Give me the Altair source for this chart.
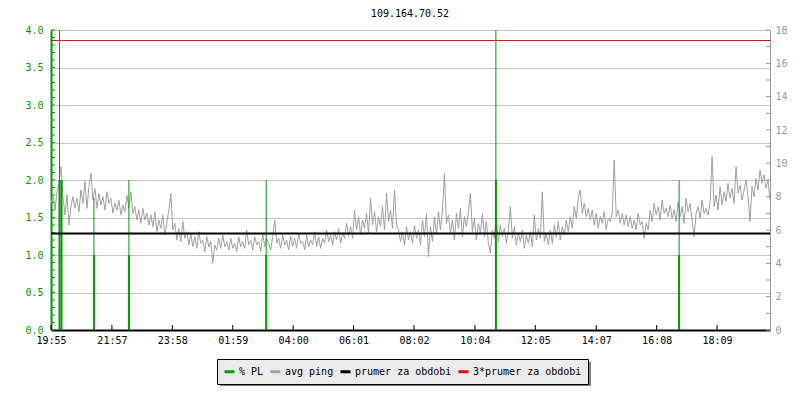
import altair as alt
import pandas as pd

title_text = "109.164.70.52"
start = pd.Timestamp("2024-05-01 19:55")
sample_minutes = 4
day_minutes = 1440

# avg ping in ms (right axis), one value every 4 minutes
ping_ms = [
    7.6, 8.1, 7.2, 8.3, 8.8, 9.8, 8.0, 6.9, 8.1, 6.3,
    7.4, 8.0, 7.3, 7.9, 7.1, 8.4, 7.6, 8.9, 7.3, 8.6,
    9.4, 7.8, 8.5, 7.3, 8.2, 7.5, 8.0, 7.2, 8.3, 7.6,
    7.9, 7.0, 7.6, 7.2, 7.8, 6.9, 7.5, 7.1, 8.1, 7.3,
    8.3, 7.0, 7.4, 6.6, 7.2, 6.4, 7.3, 6.6, 7.0, 6.3,
    6.9, 6.2, 7.1, 5.9, 6.6, 6.1, 6.9, 5.7, 6.4, 7.2,
    8.2, 6.0, 6.4, 5.4, 6.1, 5.3, 6.5, 5.5, 5.9, 5.1,
    5.8, 5.0, 5.6, 4.9, 5.9, 5.2, 5.4, 4.7, 5.6, 5.0,
    5.3, 4.0, 5.1, 4.8, 5.5, 4.9, 5.7, 5.0, 5.3, 4.8,
    5.5, 4.9, 5.2, 4.7, 5.6, 5.0, 5.3, 4.9, 6.0, 5.1,
    5.4, 4.8, 5.6, 5.1, 5.3, 4.7, 5.8, 5.0, 5.5, 5.2,
    4.8, 5.6, 6.6, 5.2, 5.5, 4.9, 5.7, 5.1, 5.4, 4.8,
    5.6, 5.0, 5.5, 4.9, 5.8, 5.2, 5.3, 4.8, 5.7, 5.0,
    5.4, 5.1, 5.9, 5.0, 5.6, 4.9, 5.5, 5.2, 6.0, 5.3,
    5.7, 5.1, 5.9, 5.4, 6.1, 5.2, 5.8, 5.5, 6.4, 5.6,
    6.2, 5.5, 7.2, 6.0, 6.8, 5.7, 6.6, 6.1, 7.0, 5.8,
    7.9, 6.3, 7.1, 5.9, 6.8, 6.2, 7.4, 6.0, 8.2, 6.5,
    7.2, 6.1, 8.4, 6.3, 6.0, 5.3, 5.9, 5.1, 6.2, 5.4,
    5.9, 5.2, 6.3, 5.5, 6.0, 5.1, 6.6, 5.6, 7.0, 4.4,
    6.2, 5.3, 6.8, 5.7, 7.1, 6.0, 7.2, 9.4, 6.4, 6.9,
    5.8, 6.6, 5.4, 7.0, 6.1, 7.3, 5.6, 6.8, 6.2, 7.1,
    8.2, 5.9, 6.7, 5.4, 6.4, 5.8, 7.0, 5.6, 6.5, 5.2,
    4.6, 6.0, 5.5, 6.8, 5.3, 6.3, 5.6, 6.1, 5.2, 6.0,
    7.4, 5.5, 6.2, 5.1, 5.8, 5.3, 6.0, 4.9, 5.7, 5.2,
    5.9, 5.0, 6.9, 5.4, 6.1, 5.5, 8.3, 5.3, 5.8, 5.1,
    6.0, 5.2, 6.3, 5.6, 6.5, 5.4, 6.2, 5.7, 6.6, 5.9,
    6.8, 6.1, 7.4, 6.7, 7.9, 8.4, 7.0, 7.6, 6.8, 7.3,
    6.6, 7.2, 6.3, 7.0, 6.1, 6.8, 6.4, 7.1, 6.0, 6.7,
    6.5, 7.0, 10.2, 6.8, 7.2, 6.4, 7.0, 6.3, 6.9, 6.2,
    6.8, 6.1, 6.6, 6.0, 7.0, 6.3, 6.5, 5.5, 6.4, 6.0,
    7.2, 6.5, 7.6, 6.9, 7.4, 6.6, 7.8, 7.0, 7.3, 6.8,
    7.5, 6.7, 7.2, 6.5, 7.7, 6.8, 7.4, 6.4, 7.9, 7.1,
    7.6, 6.6, 5.6, 7.0, 7.4, 6.7, 7.8, 7.0, 7.3, 6.9,
    7.6, 10.4, 7.4, 8.1, 7.2, 8.6, 7.5, 8.3, 7.7, 8.8,
    7.9, 8.5, 7.6, 9.8, 8.2, 8.7, 7.8, 8.4, 9.0, 8.0,
    6.5, 8.6, 8.0, 9.1, 8.4, 9.6, 8.8, 9.3, 8.5, 9.0,
    7.8,
]

# packet loss events (% , left axis)
pl_minutes = [17, 21, 86, 156, 431, 891, 1258]
pl_peak = [5.0, 2.0, 1.76, 2.0, 2.0, 5.0, 2.0]
pl_base = [2.0, 2.0, 1.0, 1.0, 1.0, 2.0, 1.0]

avg_ms = 5.79
avg3_ms = 3 * avg_ms

label_minutes = [0, 122, 243, 364, 485, 606, 727, 849, 970, 1092, 1213, 1334]
left_ticks = [round(i * 0.1, 1) for i in range(41)]
left_labels = [round(i * 0.5, 1) for i in range(9)]
right_ticks = list(range(0, 19))
right_labels = list(range(0, 19, 2))

legend_labels = ["% PL", "avg ping", "prumer za obdobi", "3*prumer za obdobi"]
GREEN = "#009c00"
GRAY = "#999999"
legend_colors = [GREEN, "#a0a0a0", "#000000", "#ff0000"]

FONT = "DejaVu Sans Mono"


def ts(m):
    return start + pd.Timedelta(minutes=m)


def dt(m):
    t = ts(m)
    return alt.DateTime(year=t.year, month=t.month, date=t.day, hours=t.hour, minutes=t.minute)


ping_df = pd.DataFrame({"t": [ts(i * sample_minutes) for i in range(len(ping_ms))], "ms": ping_ms,
                        "series": legend_labels[1]})
pl_df = pd.DataFrame({"t": [ts(m) for m in pl_minutes], "peak": pl_peak, "base": pl_base,
                      "series": legend_labels[0]})
lt_df = pd.DataFrame({"v": left_ticks})
rt_df = pd.DataFrame({"v": right_ticks})
xt_df = pd.DataFrame({"t": [ts(m) for m in label_minutes]})
avg_df = pd.DataFrame({"a": [avg_ms], "series": [legend_labels[2]]})
avg3_df = pd.DataFrame({"a": [avg3_ms], "series": [legend_labels[3]]})
title_df = pd.DataFrame({"title": [title_text]})

x_scale = alt.Scale(domain=[dt(0), dt(day_minutes)], nice=False)
x_axis = alt.Axis(values=[dt(m) for m in label_minutes], format="%H:%M", ticks=False,
                  labelPadding=5, domainColor="black", domainWidth=2, grid=False, title=None,
                  labelFlush=False, labelOverlap=False, labelFont=FONT, labelFontSize=10,
                  labelColor="black")


def X(field="t"):
    return alt.X(f"{field}:T", scale=x_scale, axis=x_axis)


left_scale = alt.Scale(domain=[0, 4], nice=False, zero=True)
right_scale = alt.Scale(domain=[0, 18], nice=False, zero=True)

color_scale = alt.Scale(domain=legend_labels, range=legend_colors)
legend = alt.Legend(orient="none", legendX=166, legendY=329, direction="horizontal", columns=4,
                    title=None, fillColor="#ebebeb", strokeColor="black", padding=6,
                    symbolType="stroke", symbolSize=100, symbolStrokeWidth=3,
                    labelFont=FONT, labelFontSize=10, labelColor="black", labelOffset=3,
                    columnPadding=0)


def C():
    return alt.Color("series:N", scale=color_scale, legend=legend)


left_axis = alt.Axis(orient="left", values=left_labels, format=".1f", labelColor=GREEN,
                     domainColor=GREEN, domainWidth=2, ticks=False, grid=True,
                     gridColor="#c4c4c4", gridWidth=1, labelFont=FONT, labelFontSize=10,
                     labelPadding=8, title=None)
right_axis = alt.Axis(orient="right", values=right_labels, format="d", labelColor=GRAY,
                      domainColor=GRAY, domainWidth=1, ticks=False, grid=False,
                      labelFont=FONT, labelFontSize=10, labelPadding=5, title=None)

left_tick_layer = alt.Chart(lt_df).mark_rule(color=GREEN, strokeWidth=1).encode(
    y=alt.Y("v:Q", scale=left_scale, axis=left_axis),
    x=alt.value(0), x2=alt.value(4),
)

ping_layer = alt.Chart(ping_df).mark_line(strokeWidth=1, interpolate="linear").encode(
    x=X(),
    y=alt.Y("ms:Q", scale=right_scale, axis=right_axis),
    color=C(),
)

pl_thin = alt.Chart(pl_df).mark_rule(strokeWidth=1, clip=True).encode(
    x=X(),
    y=alt.Y("peak:Q", scale=left_scale, axis=None),
    y2=alt.Y2Datum(0),
    color=C(),
)

pl_thick = alt.Chart(pl_df).mark_rule(strokeWidth=2, clip=True).encode(
    x=X(),
    y=alt.Y("base:Q", scale=left_scale, axis=None),
    y2=alt.Y2Datum(0),
    color=C(),
)

avg_layer = alt.Chart(avg_df).mark_rule(strokeWidth=2).encode(
    y=alt.Y("a:Q", scale=right_scale, axis=None),
    color=C(),
)

avg3_layer = alt.Chart(avg3_df).mark_rule(strokeWidth=1).encode(
    y=alt.Y("a:Q", scale=right_scale, axis=None),
    color=C(),
)

right_tick_layer = alt.Chart(rt_df).mark_rule(color=GRAY, strokeWidth=1).encode(
    y=alt.Y("v:Q", scale=right_scale, axis=None),
    x=alt.value(715), x2=alt.value(719),
)

x_tick_layer = alt.Chart(xt_df).mark_rule(color="black", strokeWidth=1).encode(
    x=X(),
    y=alt.value(295), y2=alt.value(300),
)

shadow = alt.Chart(avg_df).mark_rect(color="#808080").encode(
    x=alt.value(169), x2=alt.value(540), y=alt.value(332), y2=alt.value(356),
)

title_layer = alt.Chart(title_df).mark_text(
    font=FONT, fontSize=10, color="black", align="center", baseline="middle"
).encode(
    text="title:N", x=alt.value(359), y=alt.value(-16.5),
)

chart = alt.layer(
    left_tick_layer, ping_layer, pl_thin, pl_thick, avg_layer, avg3_layer,
    right_tick_layer, x_tick_layer, shadow, title_layer,
).resolve_scale(y="independent").properties(
    width=719, height=300,
    autosize=alt.AutoSizeParams(type="none"),
    padding={"left": 43, "top": 22, "right": 22, "bottom": 60},
).configure_view(stroke=None).configure(background="white")

chart.save("out.html", embed_options={"renderer": "svg", "actions": False})
